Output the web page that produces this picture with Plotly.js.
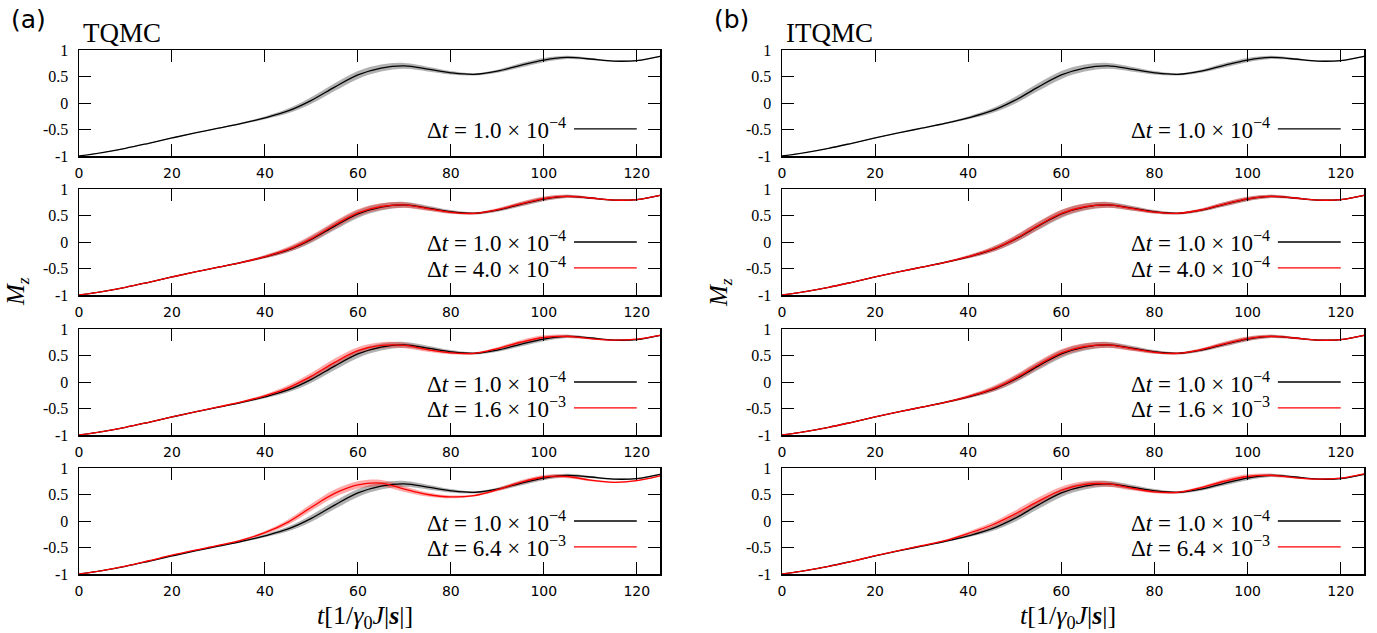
<!DOCTYPE html>
<html>
<head>
<meta charset="utf-8">
<script src="https://cdn.plot.ly/plotly-3.0.1.min.js"></script>
<style>html,body{margin:0;padding:0;background:#fff;}#chart{width:1377px;height:633px;}</style>
</head>
<body>
<div id="chart"></div>
<script>
// ---- data ----
const T = [0,5,10,15,20,25,30,35,40,45,50,55,60,65,70,75,80,85,90,95,100,105,110,115,120,125];

// reference dt = 1.0e-4 (same in every panel)
const REF = [-1.00,-0.935,-0.855,-0.76,-0.66,-0.565,-0.475,-0.385,-0.28,-0.15,0.05,0.30,0.53,0.66,0.70,0.64,0.57,0.54,0.60,0.71,0.81,0.86,0.83,0.79,0.80,0.88];
const REF_ERR = [0,0.004,0.006,0.007,0.008,0.008,0.010,0.015,0.026,0.045,0.065,0.075,0.075,0.068,0.055,0.045,0.032,0.020,0.028,0.040,0.040,0.032,0.020,0.014,0.012,0.012];

// TQMC
const TQMC_4E4 = [-1.00,-0.935,-0.855,-0.76,-0.66,-0.565,-0.475,-0.385,-0.275,-0.14,0.065,0.32,0.55,0.67,0.70,0.63,0.56,0.54,0.61,0.72,0.82,0.86,0.83,0.79,0.80,0.88];
const TQMC_16E3 = [-1.00,-0.935,-0.855,-0.76,-0.66,-0.565,-0.47,-0.375,-0.26,-0.11,0.11,0.37,0.59,0.69,0.69,0.61,0.55,0.54,0.63,0.75,0.84,0.86,0.82,0.79,0.81,0.88];
const TQMC_64E3 = [-1.00,-0.935,-0.85,-0.75,-0.645,-0.55,-0.46,-0.36,-0.22,-0.02,0.26,0.52,0.68,0.715,0.60,0.50,0.455,0.48,0.59,0.73,0.83,0.84,0.77,0.73,0.76,0.85];

// ITQMC
const ITQMC_4E4 = [-1.00,-0.935,-0.855,-0.76,-0.66,-0.565,-0.475,-0.385,-0.277,-0.145,0.055,0.31,0.54,0.665,0.70,0.635,0.565,0.54,0.605,0.715,0.815,0.86,0.83,0.79,0.80,0.88];
const ITQMC_16E3 = [-1.00,-0.935,-0.855,-0.76,-0.66,-0.565,-0.475,-0.385,-0.275,-0.14,0.065,0.32,0.55,0.67,0.70,0.63,0.56,0.54,0.61,0.72,0.82,0.86,0.83,0.79,0.80,0.88];
const ITQMC_64E3 = [-1.00,-0.935,-0.855,-0.76,-0.655,-0.56,-0.465,-0.37,-0.235,-0.08,0.13,0.37,0.58,0.69,0.70,0.62,0.55,0.54,0.63,0.75,0.84,0.86,0.82,0.79,0.81,0.89];

const RED_ERR = [0,0.004,0.006,0.007,0.008,0.008,0.011,0.017,0.030,0.050,0.065,0.072,0.068,0.060,0.052,0.040,0.028,0.020,0.028,0.040,0.040,0.032,0.020,0.014,0.012,0.012];

// tick labels
const XTICKS = [0,20,40,60,80,100,120];
const XTICKTEXT = ['0','20','40','60','80','100','120'];
const YTICKS = [-1,-0.5,0,0.5,1];
const YTICKTEXT = ['-1','-0.5','0','0.5','1'];

// legend labels
const LBL_REF = 'Δ<i>t</i> = 1.0 × 10<sup>−4</sup>';
const LBL_4E4 = 'Δ<i>t</i> = 4.0 × 10<sup>−4</sup>';
const LBL_16E3 = 'Δ<i>t</i> = 1.6 × 10<sup>−3</sup>';
const LBL_64E3 = 'Δ<i>t</i> = 6.4 × 10<sup>−3</sup>';

const PANEL_TITLES = ['TQMC','ITQMC'];
const PANEL_TAGS = ['(a)','(b)'];

// ---- layout geometry ----
const W = 1377, H = 633;
const XDOM = [[79/W, 660/W],[782/W, 1364/W]];
const ROWS = [[50,156],[189,295],[329,435],[468,574]];
const YDOM = ROWS.map(r => [1 - r[1]/H, 1 - r[0]/H]);

const columns = [
  [null, TQMC_4E4, TQMC_16E3, TQMC_64E3],
  [null, ITQMC_4E4, ITQMC_16E3, ITQMC_64E3]
];
const labels = [null, LBL_4E4, LBL_16E3, LBL_64E3];

const traces = [];
const layout = {
  width: W, height: H,
  margin: {l:0, r:0, t:0, b:0},
  paper_bgcolor: '#fff', plot_bgcolor: '#fff',
  showlegend: false,
  annotations: [], shapes: []
};

const serif = 'Liberation Serif, Times New Roman, serif';
const GRAY_BAND = 'rgba(100,100,100,0.5)';
const RED_BAND = 'rgba(255,30,30,0.38)';

function band(x, y, err, xa, ya, color){
  const lo = y.map((v,i) => v - err[i]);
  const hi = y.map((v,i) => v + err[i]);
  traces.push({x:x, y:lo, xaxis:xa, yaxis:ya, mode:'lines', line:{width:0, shape:'spline', smoothing:1}, hoverinfo:'skip'});
  traces.push({x:x, y:hi, xaxis:xa, yaxis:ya, mode:'lines', line:{width:0, shape:'spline', smoothing:1}, fill:'tonexty', fillcolor:color, hoverinfo:'skip'});
}

let idx = 0;
for (let c = 0; c < 2; c++) {
  for (let r = 0; r < 4; r++) {
    idx++;
    const xa = idx === 1 ? 'x' : 'x' + idx;
    const ya = idx === 1 ? 'y' : 'y' + idx;
    const xk = idx === 1 ? 'xaxis' : 'xaxis' + idx;
    const yk = idx === 1 ? 'yaxis' : 'yaxis' + idx;
    const red = columns[c][r];

    band(T, REF, REF_ERR, xa, ya, GRAY_BAND);
    if (red) band(T, red, RED_ERR, xa, ya, RED_BAND);
    traces.push({x:T, y:REF, xaxis:xa, yaxis:ya, mode:'lines', line:{color:'#000', width:1.3, shape:'spline', smoothing:1}});
    if (red) traces.push({x:T, y:red, xaxis:xa, yaxis:ya, mode:'lines', line:{color:'#ff0000', width:1.3, shape:'spline', smoothing:1}});

    layout[xk] = {
      domain: XDOM[c], anchor: ya, range: [0,125],
      tickmode: 'array', tickvals: XTICKS, ticktext: XTICKTEXT,
      ticks: 'inside', ticklen: 12, tickwidth: 1, tickcolor: '#000',
      showline: true, linecolor: '#000', linewidth: 1.5, mirror: 'allticks',
      showgrid: false, zeroline: false, ticklabelstandoff: 4,
      tickfont: {family: 'DejaVu Sans', size: 14, color: '#000'}
    };
    layout[yk] = {
      domain: YDOM[r], anchor: xa, range: [-1,1],
      tickmode: 'array', tickvals: YTICKS, ticktext: YTICKTEXT,
      ticks: 'inside', ticklen: 12, tickwidth: 1, tickcolor: '#000',
      showline: true, linecolor: '#000', linewidth: 1.5, mirror: 'allticks',
      showgrid: false, zeroline: false, ticklabelstandoff: 6,
      tickfont: {family: serif, size: 16, color: '#000'}
    };

    // legend entries: text + line sample
    const entries = red ? [[LBL_REF,'#000',0.5],[labels[r],'#ff0000',0.255]] : [[LBL_REF,'#000',0.255]];
    entries.forEach(e => {
      layout.annotations.push({
        xref: xa + ' domain', yref: ya + ' domain', x: 0.842, y: e[2],
        xanchor: 'right', yanchor: 'middle', showarrow: false,
        text: e[0], font: {family: serif, size: 23, color: '#000'}
      });
      layout.shapes.push({
        type: 'line', xref: xa + ' domain', yref: ya + ' domain',
        x0: 0.852, x1: 0.96, y0: e[2], y1: e[2],
        line: {color: e[1], width: 1.3}
      });
    });
  }
  // titles and tags
  const x0 = XDOM[c][0];
  layout.annotations.push({xref:'paper', yref:'paper', x: x0 + 2/W, y: 1 - 33/H, xanchor:'left', yanchor:'middle',
    showarrow:false, text: PANEL_TITLES[c], font:{family: serif, size: 27, color:'#000'}});
  layout.annotations.push({xref:'paper', yref:'paper', x: x0 - 70/W, y: 1 - 20/H, xanchor:'left', yanchor:'middle',
    showarrow:false, text: PANEL_TAGS[c], font:{family: 'DejaVu Sans', size: 25, color:'#000'}});
  layout.annotations.push({xref:'paper', yref:'paper', x: x0 - 62/W, y: 1 - 292/H, xanchor:'center', yanchor:'middle',
    showarrow:false, textangle: -90, text: '<i>M</i><sub><i>z</i></sub>', font:{family: serif, size: 25, color:'#000'}});
  layout.annotations.push({xref:'paper', yref:'paper', x: (XDOM[c][0]+XDOM[c][1])/2 - 5/W, y: 1 - 617/H, xanchor:'center', yanchor:'middle',
    showarrow:false, text: '<i>t</i>[1/<i>γ</i><sub>0</sub><i>J</i>|<b><i>s</i></b>|]', font:{family: serif, size: 26, color:'#000'}});
}

Plotly.newPlot('chart', traces, layout, {displayModeBar: false, staticPlot: true});
</script>
</body>
</html>
